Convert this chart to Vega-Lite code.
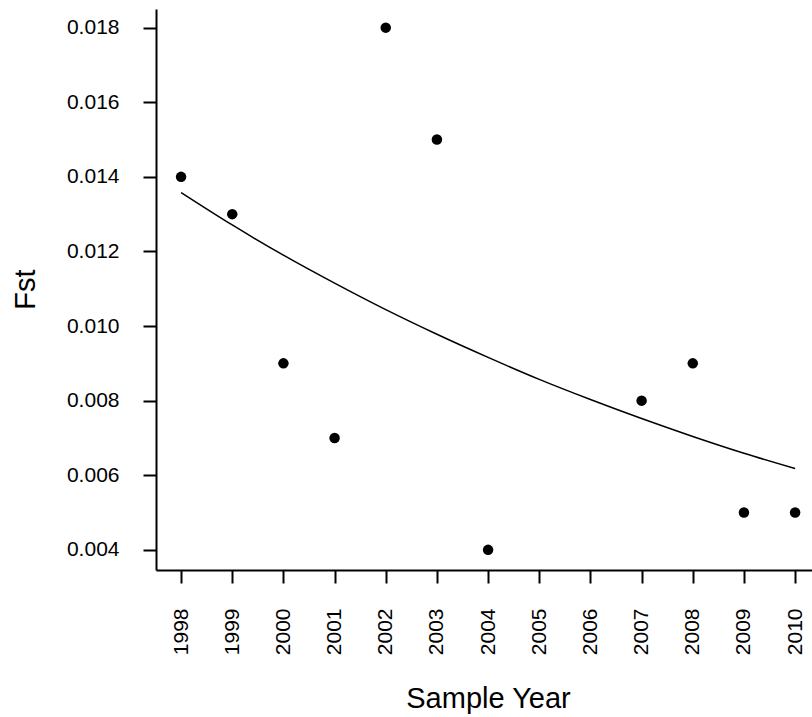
{
  "$schema": "https://vega.github.io/schema/vega-lite/v6.json",
  "autosize": "none",
  "width": 656,
  "height": 561,
  "padding": {"left": 156, "top": 9, "right": 0, "bottom": 147},
  "background": "white",
  "config": {
    "view": {"stroke": null},
    "font": "Liberation Sans",
    "axis": {
      "domainColor": "black",
      "domainWidth": 2,
      "tickColor": "black",
      "tickWidth": 2,
      "tickSize": 13,
      "labelColor": "black",
      "titleColor": "black",
      "labelFont": "Liberation Sans",
      "titleFont": "Liberation Sans",
      "labelFontSize": 21,
      "titleFontSize": 29,
      "titleFontWeight": "normal",
      "grid": false
    }
  },
  "datasets": {
    "pts": [
      {"year": 1998, "fst": 0.014},
      {"year": 1999, "fst": 0.013},
      {"year": 2000, "fst": 0.009},
      {"year": 2001, "fst": 0.007},
      {"year": 2002, "fst": 0.018},
      {"year": 2003, "fst": 0.015},
      {"year": 2004, "fst": 0.004},
      {"year": 2007, "fst": 0.008},
      {"year": 2008, "fst": 0.009},
      {"year": 2009, "fst": 0.005},
      {"year": 2010, "fst": 0.005}
    ],
    "fit": [
      {"year": 1998, "fst": 0.01358},
      {"year": 1999, "fst": 0.01271},
      {"year": 2000, "fst": 0.01190},
      {"year": 2001, "fst": 0.01115},
      {"year": 2002, "fst": 0.01044},
      {"year": 2003, "fst": 0.00978},
      {"year": 2004, "fst": 0.00916},
      {"year": 2005, "fst": 0.00857},
      {"year": 2006, "fst": 0.00803},
      {"year": 2007, "fst": 0.00752},
      {"year": 2008, "fst": 0.00704},
      {"year": 2009, "fst": 0.00659},
      {"year": 2010, "fst": 0.00618}
    ]
  },
  "encoding": {
    "x": {
      "field": "year",
      "type": "quantitative",
      "scale": {"domain": [1997.51, 2010.33], "nice": false, "zero": false},
      "axis": {
        "title": "Sample Year",
        "values": [1998, 1999, 2000, 2001, 2002, 2003, 2004, 2005, 2006, 2007, 2008, 2009, 2010],
        "format": "d",
        "labelAngle": -90,
        "labelAlign": "right",
        "labelBaseline": "middle",
        "labelPadding": 25,
        "labelFlush": false,
        "labelOverlap": false,
        "titleX": 332,
        "titleY": 137,
        "titleBaseline": "alphabetic",
        "titleAnchor": "middle",
        "titleAlign": "center"
      }
    },
    "y": {
      "field": "fst",
      "type": "quantitative",
      "scale": {"domain": [0.00346, 0.0185], "nice": false, "zero": false},
      "axis": {
        "title": "Fst",
        "values": [0.004, 0.006, 0.008, 0.01, 0.012, 0.014, 0.016, 0.018],
        "format": ".3f",
        "labelPadding": 24,
        "labelFlush": false,
        "labelOverlap": false,
        "titleX": -122,
        "titleY": 280,
        "titleAngle": -90,
        "titleBaseline": "alphabetic",
        "titleAlign": "center"
      }
    }
  },
  "layer": [
    {
      "data": {"name": "fit"},
      "mark": {"type": "line", "color": "black", "strokeWidth": 1.5, "interpolate": "monotone"}
    },
    {
      "data": {"name": "pts"},
      "mark": {"type": "circle", "color": "black", "opacity": 1, "size": 110}
    }
  ]
}
